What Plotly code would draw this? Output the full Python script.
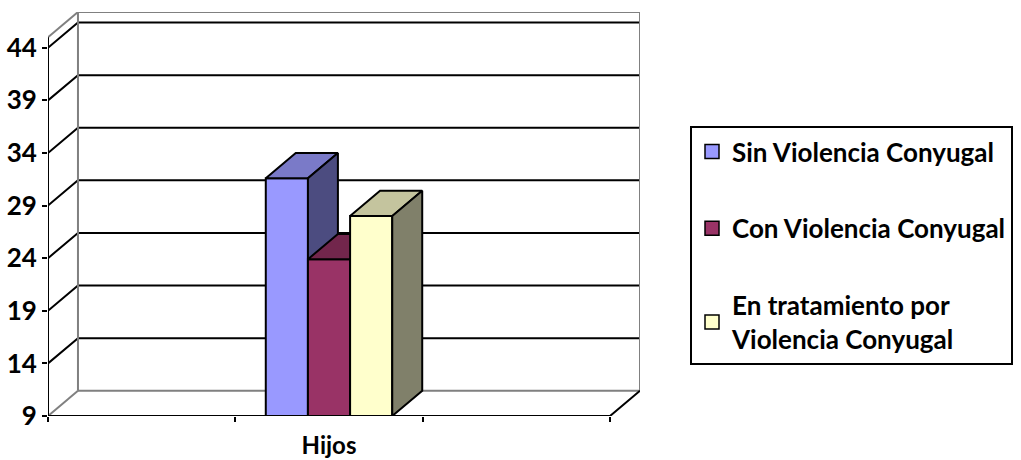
import plotly.graph_objects as go

# ---- data -------------------------------------------------------------
categories = ["Hijos"]
series_names = ["Sin Violencia Conyugal", "Con Violencia Conyugal",
                "En tratamiento por<br>Violencia Conyugal"]
series_values = [31.6, 23.9, 28.0]
y_ticks = [9, 14, 19, 24, 29, 34, 39, 44]

# ---- styling ----------------------------------------------------------
front_colors = ["#9999FF", "#993366", "#FFFFCC"]
top_colors = ["#7A7AC8", "#72264C", "#C4C49E"]
side_colors = ["#4C4C80", "#4D1A33", "#80806A"]

Y_MIN, Y_MAX = 9, 45          # value span of the walls
DX, DY = 0.16, 2.4            # oblique depth offset (x units, value units)
N_SLOTS = 3                   # floor divided into three category slots
CAT_POS = 1.5                 # centre of the "Hijos" slot
BAR_W = 0.225
FONT = "Lato"

fig = go.Figure()

# ---- walls and floor --------------------------------------------------
gx, gy = [], []
for v in y_ticks[1:]:
    gx += [0, DX, N_SLOTS + DX, None]
    gy += [v, v + DY, v + DY, None]
fig.add_trace(go.Scatter(x=gx, y=gy, mode="lines",
                         line=dict(color="black", width=2),
                         hoverinfo="skip", showlegend=False))

wall_x = [DX, DX, N_SLOTS + DX, N_SLOTS + DX, DX, None,
          0, DX, None, 0, DX]
wall_y = [Y_MIN + DY, Y_MAX + DY, Y_MAX + DY, Y_MIN + DY, Y_MIN + DY, None,
          Y_MAX, Y_MAX + DY, None, Y_MIN, Y_MIN + DY]
fig.add_trace(go.Scatter(x=wall_x, y=wall_y, mode="lines",
                         line=dict(color="#808080", width=2),
                         hoverinfo="skip", showlegend=False))

# front value axis and front floor edge
fig.add_trace(go.Scatter(x=[0, 0, None, 0, N_SLOTS, N_SLOTS + DX],
                         y=[Y_MAX, Y_MIN, None, Y_MIN, Y_MIN, Y_MIN + DY],
                         mode="lines", line=dict(color="black", width=2),
                         hoverinfo="skip", showlegend=False))

# ---- 3D bars ------------------------------------------------------------
n = len(series_values)
x_start = CAT_POS - n * BAR_W / 2
for i, v in enumerate(series_values):
    x0 = x_start + i * BAR_W
    x1 = x0 + BAR_W
    faces = [
        ([x0, x1, x1, x0, x0], [Y_MIN, Y_MIN, v, v, Y_MIN], front_colors[i]),
        ([x0, x1, x1 + DX, x0 + DX, x0], [v, v, v + DY, v + DY, v], top_colors[i]),
        ([x1, x1 + DX, x1 + DX, x1, x1],
         [Y_MIN, Y_MIN + DY, v + DY, v, Y_MIN], side_colors[i]),
    ]
    for fx, fy, col in faces:
        fig.add_trace(go.Scatter(x=fx, y=fy, mode="lines", fill="toself",
                                 fillcolor=col,
                                 line=dict(color="black", width=2),
                                 hoverinfo="skip", showlegend=False))

# legend entries
for i, name in enumerate(series_names):
    fig.add_trace(go.Scatter(x=[None], y=[None], mode="markers", name=name,
                             legendgroup=f"g{i}",
                             marker=dict(symbol="square", size=14,
                                         color=front_colors[i],
                                         line=dict(color="black", width=1.5))))

fig.update_layout(
    width=1021, height=460,
    margin=dict(l=48, r=381, t=12, b=44, autoexpand=False),
    paper_bgcolor="white", plot_bgcolor="white",
    font=dict(family=FONT, color="black"),
    xaxis=dict(range=[0, N_SLOTS + DX], showgrid=False, zeroline=False,
               showline=False, tickmode="array", tickvals=[CAT_POS],
               ticktext=categories, ticks="",
               tickfont=dict(size=24, family=FONT, weight="bold"),
               ticklabelstandoff=13,
               minor=dict(tickmode="array", tickvals=[0, 1, 2, 3],
                          ticks="outside", ticklen=5, tickwidth=2,
                          tickcolor="black", showgrid=False),
               fixedrange=True),
    yaxis=dict(range=[Y_MIN, Y_MAX + DY], showgrid=False, zeroline=False,
               showline=False, tickmode="array", tickvals=y_ticks,
               ticks="outside", ticklen=5, tickwidth=2, tickcolor="black",
               tickfont=dict(size=26, family=FONT, weight="bold"),
               fixedrange=True),
    legend=dict(x=(690 - 48) / 592, xanchor="left",
                y=(416 - 126) / 404, yanchor="top",
                bordercolor="black", borderwidth=2,
                font=dict(size=26, family=FONT, weight="bold"),
                tracegroupgap=40, itemsizing="trace"),
    showlegend=True,
)

fig.write_html("out.html")
